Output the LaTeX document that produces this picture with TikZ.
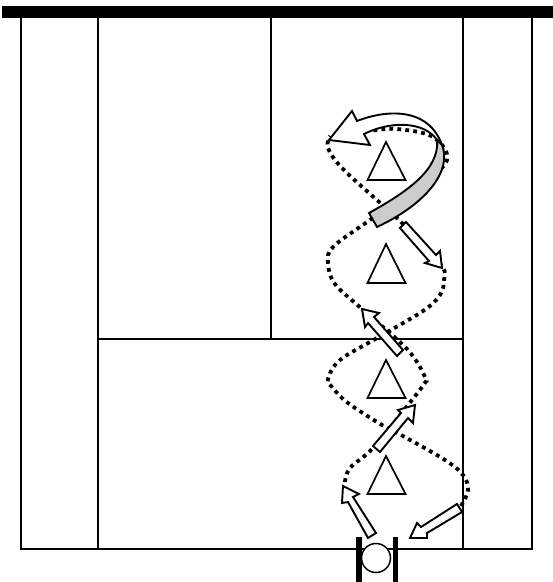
\documentclass[tikz,border=0pt]{standalone}
\begin{document}
\begin{tikzpicture}[x=1pt,y=-1pt,
  court/.style={line width=2.1pt,draw=black},
  route/.style={line width=3.8pt,draw=black,dash pattern=on 3.8pt off 4.2pt},
  runarrow/.style={line width=1.9pt,draw=black,fill=white,line join=miter},
  cone/.style={line width=1.7pt,draw=black,fill=white},
  goalpost/.style={fill=black,draw=none}]
\useasboundingbox (0,0) rectangle (553,582);
% net
\fill[black] (2,6) rectangle (553,18);
% court lines
\draw[court] (21,18) -- (21,549) -- (532,549) -- (532,18);
\draw[court] (98,18) -- (98,549);
\draw[court] (463,18) -- (463,549);
\draw[court] (271,18) -- (271,339);
\draw[court] (98,339) -- (463,339);
% dotted routes
\draw[route] plot[smooth,tension=0.6] coordinates {(461,506) (468,490) (463,475) (445,460) (403,436) (382,425) (348,403) (332,387) (328,379) (340,360) (377,338) (423,311) (440,295) (444,280) (441,265) (402,223) (378,201) (342,168) (328,148) (330,136)};
\draw[route] plot[smooth,tension=0.6] coordinates {(345,482) (350,468) (373,448) (408,405) (424,384) (425,377) (407,349) (362,309) (335,284) (328,263) (333,247) (367,222) (420,185) (447,160) (433,137) (397,129) (370,131)};
% cones
\draw[cone] (386,142) -- (405.5,180) -- (367.5,180) -- cycle;
\draw[cone] (386,244) -- (405.5,283) -- (367.5,283) -- cycle;
\draw[cone] (386,360) -- (405.5,398) -- (367.5,398) -- cycle;
\draw[cone] (386,456) -- (405.5,494) -- (367.5,494) -- cycle;
% straight arrows
\draw[runarrow] (410,538) -- (417,523) -- (421,527) -- (457,504) -- (462,512) -- (427,533) -- (427,538) -- cycle;
\draw[runarrow] (343,486) -- (359,494) -- (353,497) -- (376,533) -- (368,538) -- (348,502) -- (342,503) -- cycle;
\draw[runarrow] (415,405) -- (413,423) -- (408,418) -- (380,452) -- (373,446) -- (401,413) -- (398,410) -- cycle;
\draw[runarrow] (362,309) -- (379,313) -- (374,317) -- (403,350) -- (397,356) -- (368,323) -- (365,327) -- cycle;
\draw[runarrow] (442,268) -- (425,263) -- (429,261) -- (400,228) -- (406,222) -- (436,255) -- (440,251) -- cycle;
% curved arrow: white head part
\draw[runarrow] (329,140) -- (352,111) -- (357,121)
  .. controls (385,110) and (428,106) .. (442,145)
  -- (437,140)
  .. controls (425,122) and (392,120) .. (364,134)
  -- (370,145) -- cycle;
% curved arrow: grey band
\draw[line width=1.9pt,draw=black,fill=black!20,line join=miter] (369,213)
  .. controls (405,193) and (440,170) .. (437,140)
  -- (442,145)
  .. controls (452,170) and (428,203) .. (377,227) -- cycle;
% goal
\fill[goalpost] (356,537) rectangle (361.5,582);
\fill[goalpost] (392.5,537) rectangle (398,582);
\draw[line width=1.5pt,fill=white] (376,558) circle (14.5);
\end{tikzpicture}
\end{document}
